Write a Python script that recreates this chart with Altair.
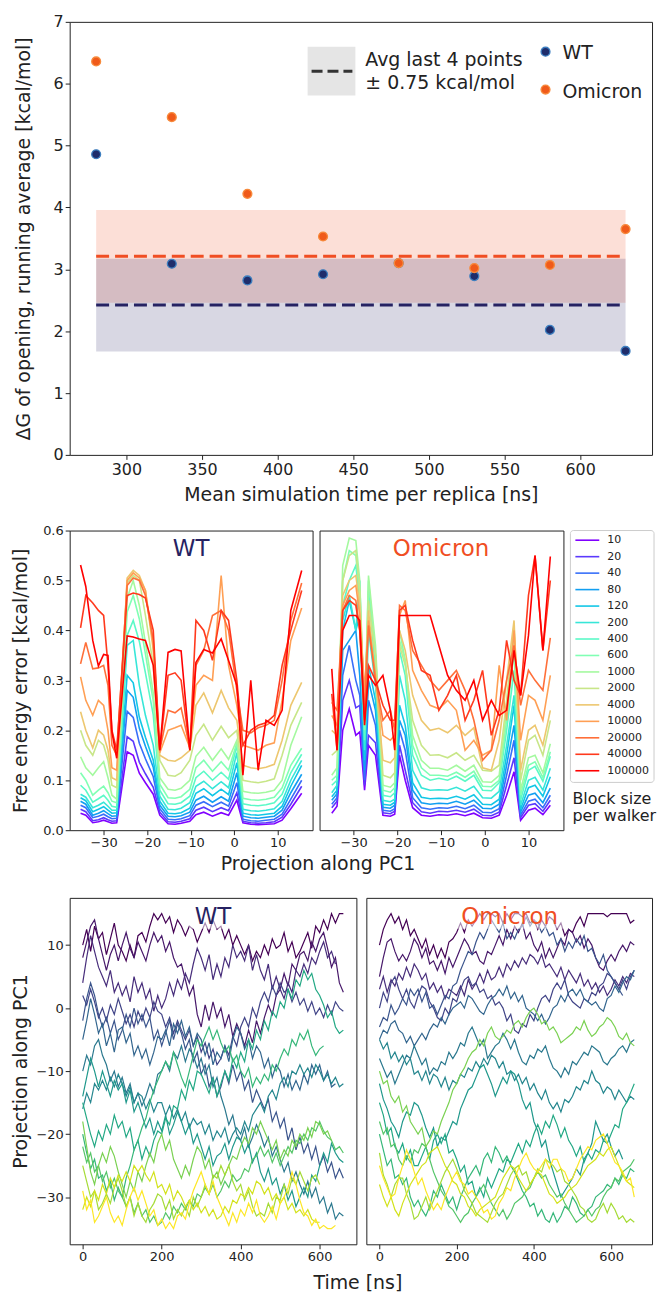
import math
import altair as alt
import pandas as pd

# ------------------------------------------------------------------ top panel
TIME_NS = [280, 330, 380, 430, 480, 530, 580, 630]
DG_WT = [4.86, 3.09, 2.82, 2.92, 3.10, 2.89, 2.02, 1.68]
DG_OMICRON = [6.36, 5.46, 4.22, 3.53, 3.10, 3.02, 3.07, 3.65]
BAND_HALF_WIDTH = 0.75
X_TICKS_TOP = [300, 350, 400, 450, 500, 550, 600]
Y_TICKS_TOP = [0, 1, 2, 3, 4, 5, 6, 7]

# ------------------------------------------------------------------ middle panels
BLOCK_SIZES = [10, 20, 40, 80, 120, 200, 400, 600, 1000, 2000, 4000, 10000, 20000, 40000, 100000]
X_TICKS_MID = [-30, -20, -10, 0, 10]
Y_TICKS_MID = [0.0, 0.1, 0.2, 0.3, 0.4, 0.5, 0.6]

X_WT = [-35.3, -34.1, -32.5, -31.2, -30.0, -29.0, -28.1, -27.0, -24.6, -23.2, -21.8, -20.4, -18.6, -17.1,
        -15.2, -13.6, -12.2, -10.2, -8.8, -7.0, -5.0, -3.0, -1.3, 0.6, 2.0, 3.8, 5.5, 7.3, 9.2, 11.0, 13.0, 15.5]
WT_ERR_10 = [.034, .030, .015, .017, .020, .017, .014, .015, .157, .150, .114, .095, .072, .030, .013, .012, .014, .018, .031, .036, .028, .035, .030, .060, .015, .012, .011, .012, .013, .020, .043, .074]
WT_ERR_20 = [.042, .037, .019, .021, .025, .021, .018, .019, .187, .178, .136, .113, .086, .036, .017, .016, .018, .023, .040, .046, .037, .045, .039, .075, .018, .015, .014, .015, .017, .026, .052, .088]
WT_ERR_40 = [.050, .045, .025, .028, .032, .027, .023, .024, .238, .226, .174, .143, .107, .043, .022, .021, .023, .029, .050, .057, .047, .056, .048, .095, .022, .019, .018, .020, .022, .032, .062, .100]
WT_ERR_80 = [.058, .052, .030, .034, .039, .033, .028, .029, .280, .266, .204, .168, .126, .050, .028, .027, .029, .036, .060, .068, .056, .067, .058, .115, .028, .025, .024, .026, .028, .040, .075, .112]
WT_ERR_120 = [.065, .059, .037, .042, .047, .040, .034, .035, .310, .295, .226, .186, .140, .058, .034, .033, .035, .044, .074, .083, .069, .082, .071, .135, .034, .031, .030, .032, .034, .048, .088, .130]
WT_ERR_200 = [.072, .066, .045, .050, .056, .048, .040, .040, .370, .380, .290, .230, .170, .068, .042, .041, .044, .055, .088, .098, .083, .097, .085, .155, .042, .039, .038, .040, .043, .058, .100, .140]
WT_ERR_400 = [.090, .080, .056, .063, .070, .060, .048, .046, .390, .420, .378, .315, .231, .080, .053, .052, .055, .068, .105, .118, .100, .116, .102, .170, .053, .050, .049, .051, .055, .072, .115, .152]
WT_ERR_600 = [.115, .100, .070, .080, .088, .075, .058, .055, .437, .470, .423, .353, .259, .092, .065, .064, .067, .082, .125, .140, .118, .137, .120, .175, .064, .061, .060, .062, .066, .085, .130, .164]
WT_ERR_1000 = [.147, .125, .110, .125, .137, .105, .070, .062, .465, .500, .450, .375, .275, .105, .082, .080, .084, .100, .148, .166, .140, .163, .142, .180, .078, .075, .074, .076, .080, .100, .170, .227]
WT_ERR_2000 = [.200, .170, .150, .180, .170, .140, .090, .085, .495, .510, .500, .430, .330, .140, .110, .108, .115, .140, .190, .212, .180, .208, .185, .200, .100, .097, .095, .098, .103, .150, .210, .256]
WT_ERR_4000 = [.237, .200, .165, .200, .190, .160, .105, .100, .505, .520, .510, .480, .360, .150, .140, .138, .145, .160, .250, .275, .235, .280, .245, .220, .130, .125, .123, .126, .132, .180, .250, .296]
WT_ERR_10000 = [.307, .260, .230, .260, .250, .200, .125, .120, .500, .515, .505, .480, .370, .155, .200, .205, .210, .165, .290, .310, .300, .510, .330, .250, .170, .165, .160, .170, .175, .260, .380, .445]
WT_ERR_20000 = [.333, .376, .323, .325, .330, .290, .170, .150, .490, .505, .500, .470, .380, .160, .240, .235, .245, .165, .330, .360, .430, .440, .400, .280, .200, .195, .205, .210, .220, .300, .420, .495]
WT_ERR_40000 = [.405, .470, .455, .440, .430, .330, .200, .160, .470, .475, .472, .465, .400, .160, .310, .315, .300, .160, .420, .400, .340, .440, .420, .300, .170, .200, .210, .215, .230, .330, .400, .480]
WT_ERR_100000 = [.531, .488, .380, .329, .352, .350, .197, .144, .389, .387, .383, .380, .330, .160, .356, .362, .359, .160, .336, .362, .355, .383, .340, .290, .110, .300, .120, .220, .210, .240, .440, .520]

X_OM = [-35.0, -33.8, -32.5, -31.0, -29.5, -28.6, -27.5, -26.6, -25.0, -23.3, -21.6, -20.6, -19.5, -18.2,
        -16.5, -14.5, -12.5, -10.5, -8.5, -6.5, -4.5, -2.5, -0.5, 1.5, 3.3, 5.0, 6.7, 8.2, 10.0, 11.5, 13.3, 15.0]
OM_ERR_10 = [.034, .048, .200, .243, .190, .197, .080, .170, .150, .030, .028, .032, .150, .100, .045, .030, .028, .031, .030, .033, .029, .034, .025, .024, .030, .070, .117, .020, .040, .044, .031, .050]
OM_ERR_20 = [.045, .058, .260, .300, .245, .250, .090, .190, .175, .035, .033, .038, .170, .120, .055, .037, .034, .038, .037, .040, .036, .042, .030, .029, .036, .090, .145, .025, .050, .053, .038, .060]
OM_ERR_40 = [.052, .065, .310, .370, .300, .270, .100, .260, .210, .040, .038, .043, .200, .160, .065, .045, .042, .045, .044, .048, .043, .050, .036, .035, .043, .110, .180, .030, .058, .062, .045, .070]
OM_ERR_80 = [.060, .073, .360, .380, .400, .310, .120, .300, .240, .046, .044, .050, .220, .190, .080, .055, .052, .054, .053, .058, .052, .060, .044, .043, .052, .130, .210, .036, .070, .074, .055, .084]
OM_ERR_120 = [.067, .080, .400, .460, .400, .430, .140, .330, .260, .052, .050, .056, .250, .210, .095, .066, .063, .064, .063, .068, .062, .071, .052, .051, .062, .150, .250, .042, .085, .090, .068, .107]
OM_ERR_200 = [.075, .090, .420, .470, .400, .500, .160, .400, .290, .060, .057, .062, .310, .260, .120, .085, .080, .081, .080, .086, .078, .088, .065, .064, .078, .170, .270, .050, .100, .106, .080, .124]
OM_ERR_400 = [.090, .100, .450, .500, .530, .460, .180, .480, .320, .070, .067, .075, .360, .310, .150, .110, .100, .104, .100, .108, .098, .110, .080, .079, .095, .200, .320, .060, .120, .128, .098, .148]
OM_ERR_600 = [.100, .110, .500, .560, .550, .470, .200, .500, .350, .080, .076, .085, .400, .340, .170, .125, .110, .110, .108, .116, .106, .118, .088, .087, .100, .220, .360, .070, .130, .137, .105, .157]
OM_ERR_1000 = [.110, .125, .530, .585, .580, .500, .220, .510, .370, .090, .086, .095, .380, .340, .190, .140, .124, .124, .120, .130, .118, .130, .097, .096, .110, .240, .390, .080, .145, .150, .115, .173]
OM_ERR_2000 = [.150, .160, .500, .550, .560, .480, .240, .460, .350, .110, .105, .115, .370, .330, .220, .170, .150, .151, .145, .155, .140, .150, .120, .118, .130, .260, .410, .100, .180, .190, .150, .220]
OM_ERR_4000 = [.200, .190, .470, .500, .510, .450, .250, .440, .300, .140, .135, .145, .400, .360, .270, .220, .200, .204, .195, .210, .190, .205, .125, .120, .180, .300, .420, .120, .200, .210, .170, .240]
OM_ERR_10000 = [.230, .210, .450, .480, .490, .430, .280, .420, .310, .190, .180, .190, .430, .460, .320, .280, .250, .243, .260, .240, .160, .180, .150, .160, .330, .220, .400, .180, .270, .260, .220, .310]
OM_ERR_20000 = [.256, .240, .440, .470, .460, .400, .240, .410, .300, .220, .240, .200, .450, .440, .360, .330, .300, .280, .300, .320, .280, .220, .140, .160, .220, .300, .370, .250, .320, .300, .280, .385]
OM_ERR_40000 = [.273, .160, .440, .460, .450, .400, .220, .330, .300, .250, .220, .220, .440, .450, .380, .320, .310, .240, .270, .310, .220, .260, .320, .190, .240, .380, .300, .270, .470, .550, .360, .500]
OM_ERR_100000 = [.323, .160, .400, .430, .430, .420, .210, .310, .290, .310, .240, .160, .430, .430, .430, .430, .430, .370, .310, .280, .260, .300, .220, .260, .230, .240, .360, .270, .390, .550, .360, .548]

# ------------------------------------------------------------------ bottom panels (walker trajectories, one value every 10 ns)
TIME_STEP_NS = 10
X_TICKS_BOT = [0, 200, 400, 600]
Y_TICKS_BOT = [-30, -20, -10, 0, 10]

WT_WALK_0 = [10, 12.5, 9, 13, 11, 12, 8.5, 11, 13.5, 10, 9, 7.5, 10, 8, 11.5, 12, 10.5, 13, 15, 14, 15, 13.5, 14.5, 12, 14, 13, 11.5, 13, 12.5, 10.5, 12, 13.5, 12, 14, 12.5, 13, 11, 12.5, 10, 11.5, 10, 8.5, 10, 7.5, 9, 8, 10, 8.5, 11, 9.5, 10, 12, 9, 10.5, 8, 9, 10.5, 12, 9.5, 13, 12, 14, 12.5, 15, 13.5, 15, 15]
WT_WALK_1 = [8, 10.5, 13, 14, 11, 8.5, 6, 8.5, 10, 7.5, 10, 12, 9.5, 8, 10.5, 9, 7.5, 10, 12, 10.5, 11.5, 9, 10.5, 8, 6.5, 7, 4.5, 2, 3.5, -1, -3, 0.5, -2, 1, -1.5, 0, -3, -1, -4.5, -2.5, -4, -6, -3.5, -5.5, -2, -4, -1.5, 0.5, -1, 2, 3, 5.5, 3.5, 7, 6, 8.5, 9, 7.5, 10.5, 9, 11, 12, 9.5, 6.5, 8, 4, 2.5]
WT_WALK_2 = [4, 8, 11.5, 9, 6.5, 5, 3.5, 6, 2.5, 4, 2, 3.5, 1, 5, 2.5, 4, 1.5, 3, -0.5, 2, 0, 1.5, 4, 2, 4.5, 3, 5.5, 4, 7, 9.5, 8, 6, 8.5, 4.5, 7, 5, 8, 6.5, 10, 8, 9, 7.5, 10, 6, 8.5, 6, 4.5, 7, 3, 5, 3, 1.5, 4, 2.5, 6, 5, 7, 5.5, 8, 7, 9, 10.5, 8, 9, 7]
WT_WALK_3 = [-2, 1.5, 4, 2, -1, -3, -1.5, -4, -2, -5, -3.5, -1, -3, 0, -2.5, -1, -3, -1.5, -5, -3.5, -6, -4, -2, -5, -2.5, -4, -6.5, -5, -8.5, -7, -10.5, -9, -12.5, -11, -14, -12.5, -10, -12, -9, -11.5, -10, -13, -11.5, -15, -13, -14.5, -16, -14.5, -18, -16.5, -19, -17.5, -21, -19, -22.5, -20.5, -23, -21.5, -24, -22, -25, -23.5, -26, -24.5, -27, -25.5, -27]
WT_WALK_4 = [-5, -2, 1.5, -1, -4, -2.5, -6, -4, -7, -3.5, -3, -5.5, -4, -7.5, -6, -8, -6.5, -9, -7, -4.5, -5, -3.5, -6, -2.5, -4, -2, -4.5, -3, -6, -4, -5, -7.5, -5.5, -9, -7, -8, -6, -8.5, -5, -3, -4, -6.5, -5, -8, -6, -7, -9.5, -8, -11, -9, -10, -12.5, -10.5, -13, -11.5, -13, -10.5, -12, -9, -10.5, -9, -11.5, -10, -12.5, -12]
WT_WALK_5 = [-10, -7.5, -9, -6, -5, -7.5, -9, -11.5, -10, -12.5, -11, -13.5, -12, -15, -13.5, -15.5, -14, -12, -13.5, -10.5, -10, -8.5, -10, -7, -8, -6, -8.5, -6.5, -7.5, -9.5, -8, -10.5, -9, -12.5, -11, -14, -16, -18.5, -17, -20, -21, -19, -22, -20.5, -18.5, -20, -22, -20.5, -23.5, -22, -24, -26, -24.5, -27.5, -26, -28, -29.5, -27.5, -30, -28.5, -31, -30, -32.5, -31, -33.5, -32.5, -33]
WT_WALK_6 = [-14, -11, -8, -10, -12.5, -10, -12, -14, -11.5, -13, -12, -15, -13, -16.5, -15, -17, -19, -17.5, -20, -18, -19.5, -17, -20, -18.5, -16.5, -18, -20, -18.5, -21.5, -20, -22, -24, -22, -25, -23.5, -23, -21.5, -24, -22, -20.5, -21, -23, -21.5, -24.5, -23, -26, -27.5, -25.5, -28, -27, -29.5, -28, -30.5, -29, -31.5, -30, -28.5, -30, -26.5, -27.5, -25, -23, -24.5, -21.5, -23, -24, -24.5]
WT_WALK_7 = [-15, -17.5, -20, -22, -19.5, -21, -18.5, -20, -17, -19, -18, -20.5, -19, -22.5, -21, -24, -22, -23.5, -21, -19.5, -20, -17.5, -18.5, -15.5, -16, -13, -14.5, -11.5, -13, -10, -10.5, -12, -13.5, -11, -14, -12, -10, -11.5, -8, -9.5, -7, -8.5, -5, -6.5, -3.5, -5, -2, -3.5, -0.5, -1.5, 1, 0, 3, 1.5, 4.5, 3.5, 6, 4.5, 5.5, 3, 2, 0.5, -1.5, -0.5, -3, -4, -3.5]
WT_WALK_8 = [-20, -23, -25.5, -24, -27, -26.5, -29, -27.5, -30.5, -28.5, -30, -27, -25, -22.5, -21, -19, -17.5, -15, -13, -11.5, -10, -8.5, -9.5, -7, -9, -11, -12.5, -10, -7.5, -5, -6, -4.5, -3, -5, -3.5, -5.5, -7, -6, -8.5, -7.5, -10, -11, -9.5, -12.5, -11, -12, -10.5, -11.5, -9, -10, -8, -6.5, -7.5, -5, -6, -4, -5, -3.5, -6, -7.5, -6.5, -6]
WT_WALK_9 = [-18, -22, -26, -28, -25, -23, -24.5, -22, -23.5, -26, -28, -30, -27.5, -29, -26, -27.5, -25, -23, -24.5, -21.5, -20, -22.5, -21, -24, -25.5, -27, -25, -26.5, -24, -22, -23, -25.5, -24, -27, -26, -28, -26.5, -25, -23.5, -24, -22, -20.5, -21.5, -19, -20, -18, -19.5, -21, -22.5, -21, -24, -22.5, -23.5, -21, -22, -20, -21, -19, -20.5, -18, -18.5, -20, -19.5, -21]
WT_WALK_10 = [-25, -27.5, -30, -29, -32, -31, -29.5, -31, -28.5, -27, -29, -31.5, -30, -33, -31, -33, -34, -32, -31, -29.5, -30, -32, -30.5, -33.5, -32, -33, -31.5, -33, -30, -31.5, -30, -28, -29.5, -26.5, -27, -25, -26.5, -25, -27.5, -29, -28, -30.5, -29, -31.5, -33, -32.5, -33, -31, -32.5, -30, -30.5, -28, -29.5, -27, -28, -26, -27.5, -29, -27, -26.5, -28]
WT_WALK_11 = [-29, -32, -30.5, -34, -33, -31.5, -30, -32.5, -34, -33, -34.5, -32, -30, -28.5, -30.5, -29, -31, -33, -32, -34.5, -33.5, -35, -34, -35, -33, -32.5, -33.5, -31, -29, -27.5, -26, -28, -29.5, -27.5, -30, -31.5, -33, -34.5, -32.5, -34, -32, -33, -31, -32.5, -30.5, -33, -34, -33, -31.5, -33.5, -31, -30, -28.5, -26, -28, -30.5, -32.5, -33, -34.5, -33.5, -35, -34.5, -35, -35, -34.5]
WT_WALK_12 = [2, 0.5, 3, 1, -1.5, 0, -2, 0.5, -1, 1.5, -0.5, -2.5, -1, -3, -0.5, -2, 0, -1.5, 1, -0.5, -1, -3, -1.5, -4, -2, -3.5, -5, -3.5, -6, -4.5, -7, -5.5, -8, -6.5, -9, -8, -6, -7.5, -4.5, -6, -3, -1.5, -3, 0, -1.5, 1, 2.5, 1, 3.5, 2, 4, 2.5, 3, 1, 2.5, 0.5, 1.5, -0.5, 1, -1, 0, -1.5, 0.5, -1, 1, 0, -0.5]
WT_WALK_13 = [-16, -13.5, -15, -12, -13, -11.5, -13, -11, -12.5, -10.5, -12, -14, -12.5, -15, -13.5, -14, -16, -14.5, -16.5, -15, -15, -17, -15.5, -17.5, -16, -18, -16.5, -19, -17.5, -18.5, -18, -20, -18.5, -21, -19.5, -20.5, -19, -21.5, -20, -19, -20, -18, -19.5, -17, -16, -15, -16.5, -14, -13, -14.5, -12, -11, -12.5, -10, -10.5, -9, -10.5, -9.5, -11, -9, -10, -11.5, -10.5, -12, -11, -12.5, -12]
WT_WALK_14 = [-22, -24.5, -23, -26, -25, -27.5, -26, -28.5, -27, -29, -30, -31.5, -30, -32.5, -31, -33, -32, -34, -33, -34.5, -34, -32.5, -33.5, -31.5, -32.5, -31, -32, -30.5, -31.5, -29.5, -30, -28.5, -29.5, -28, -30, -29, -27.5, -28.5, -26.5, -27.5, -27, -25.5, -26, -24, -23.5, -22, -23.5, -22.5, -24.5, -23, -25, -23.5, -22, -23, -21, -21.5, -20, -21, -19, -19.5, -18, -19.5, -20.5, -21, -22.5, -22, -23]
WT_WALK_15 = [-32, -30, -31.5, -29, -30.5, -28, -29.5, -27, -28.5, -26.5, -27.5, -26, -27.5, -25, -26, -25, -26.5, -27.5, -26, -28.5, -28, -29.5, -28, -30.5, -29, -30, -31.5, -30.5, -32, -31, -32.5, -31.5, -33, -32, -33.5, -33, -31.5, -32.5, -30.5, -31, -29.5, -30, -28.5, -29.5, -27.5, -28, -29.5, -28.5, -30.5, -29.5, -31, -30, -32, -31, -32.5, -32, -33, -32, -33.5, -34, -34]

OM_WALK_0 = [10, 12.5, 14, 15, 13.5, 14.5, 12.5, 14, 11.5, 12.5, 11, 9.5, 11, 8.5, 10, 8, 9.5, 8, 10.5, 11, 12, 13.5, 12, 14, 13, 14, 15, 14, 15, 15, 14.5, 15, 13.5, 15, 14, 15, 15, 14.5, 15, 13.5, 14, 12.5, 14, 13, 14.5, 14, 12.5, 13.5, 11.5, 12.5, 12, 13.5, 14.5, 13, 15, 15, 15, 15, 15, 14.5, 15, 15, 15, 15, 15, 13.5, 14]
OM_WALK_1 = [5, 8, 10.5, 11, 9, 7.5, 8.5, 7.5, 9, 11, 10, 8, 9.5, 7, 7.5, 6, 7.5, 5.5, 8, 6.5, 8, 9.5, 11, 10, 8.5, 9, 7.5, 7, 9, 8.5, 10, 11.5, 10, 12.5, 11, 13, 12, 13.5, 11, 12, 10, 9, 10.5, 8, 9.5, 8, 9.5, 11, 10, 12.5, 12, 10.5, 11.5, 9.5, 11, 10, 8, 6.5, 6, 7.5, 8.5, 7.5, 9, 10, 9, 10.5, 10]
OM_WALK_2 = [0, 2.5, 1, 4, 5, 3, 1.5, 3, 1, 0, 2, 3.5, 3, 1, 0, -1.5, -2, 0, -1, 1.5, 1, 3, 4.5, 5, 3.5, 4, 2.5, 3, 1.5, 2, 0.5, 1, 0, -2, -1, -3.5, -4, -2.5, -3, -1, -2, 0, 1.5, 2, 1, 3, 4, 3, 4.5, 2, 1, 0.5, 0, 1.5, 1, 2.5, 2, 3.5, 4, 5.5, 5, 4, 3, 4.5, 3, 5, 6]
OM_WALK_3 = [-3, -1.5, -2, 0.5, -1, 0, 1.5, 0.5, 3, 2, 3, 1, 2.5, 0, 0.5, -1, 0.5, 2, 1.5, 3.5, 4, 6, 7.5, 9, 8.5, 10.5, 12, 11, 12.5, 14, 13, 12, 13.5, 11, 12, 11, 12.5, 13, 14.5, 13, 14, 13.5, 12, 13, 11.5, 12, 10, 11, 9, 10.5, 9.5, 11, 10, 11.5, 9, 9.5, 8, 7, 8.5, 6, 5, 4, 3, 2]
OM_WALK_4 = [-5, -3.5, -4, -2.5, -2, -3.5, -4, -5.5, -4.5, -6, -5, -4, -5, -3.5, -2.5, -3, -1.5, -2.5, -1, 0, 0.5, 1, 0, 2, 1.5, 0.5, -0.5, -1, 0.5, 1.5, 2, 3, 2, 3.5, 1.5, 2.5, 1, 2, 0, -0.5, -1, -2, -1, -2.5, -1.5, 0, 0.5, 2, 1, 2.5, 3, 2, 3, 1.5, 1, 0.5, 1, 0, -0.5, 1.5, 2, 3.5, 2.5, 4, 5, 4.5, 6]
OM_WALK_5 = [-8, -9.5, -11, -10, -12, -10.5, -9, -7.5, -8, -6, -7.5, -9, -8, -10.5, -9.5, -10, -8.5, -9, -7, -8, -7, -5.5, -6, -4, -3, -4.5, -6, -5, -8, -7, -6, -5.5, -4, -5, -6.5, -5, -7, -8.5, -9, -7.5, -8, -6.5, -7, -6, -8, -9.5, -10, -11, -9.5, -10.5, -8.5, -9, -8, -7, -7.5, -6, -6.5, -7, -8.5, -9, -8, -7.5, -6.5, -6, -7, -5.5, -5]
OM_WALK_6 = [-12, -14.5, -16, -18, -19, -20.5, -18, -16.5, -17, -15, -15.5, -17, -19, -20.5, -19, -22, -20.5, -21, -19.5, -18, -18.5, -16, -14.5, -13, -12.5, -11, -9.5, -9, -10.5, -12, -14, -12.5, -11, -12, -10, -10.5, -12, -14.5, -16, -15, -18, -19.5, -22, -21, -24, -26, -28, -30, -29, -28, -27, -25.5, -26.5, -24, -23, -21.5, -18, -19.5, -21, -20, -22, -23.5, -22.5, -24]
OM_WALK_7 = [-15, -17, -20, -19, -22, -23, -21.5, -24, -22.5, -25, -25, -23.5, -22, -24, -21, -20, -21.5, -20, -23, -22.5, -24, -26, -25, -28, -27.5, -30, -28.5, -30, -27, -28.5, -27, -25.5, -26, -24, -24.5, -23, -21.5, -23, -21, -22, -20, -18.5, -20, -18, -19, -17, -18.5, -20.5, -19, -21, -22, -23.5, -22, -24.5, -23, -24, -22.5, -23, -21, -21.5, -20, -18.5, -19, -16, -15, -13.5, -12]
OM_WALK_8 = [-20, -22.5, -25, -24, -27, -26.5, -28, -27, -30, -31.5, -30.5, -32, -33, -31.5, -29, -30, -28, -29.5, -31, -30, -32, -30, -28.5, -27, -26, -25, -26.5, -24, -23, -24.5, -22, -23, -24.5, -23.5, -25, -26, -27.5, -29, -30, -31.5, -31, -33, -32, -33.5, -34, -32.5, -34, -33, -31.5, -32, -30, -31, -32.5, -33, -32, -31.5, -30, -29.5, -29, -28, -28.5, -27, -28, -26.5, -27, -25.5, -26]
OM_WALK_9 = [-10, -12, -11.5, -14, -15, -14, -16.5, -15.5, -18, -19, -20, -19, -22, -21, -19.5, -20, -18, -16.5, -15, -13, -12, -10.5, -9.5, -8, -7, -6.5, -5, -6, -4, -3, -4.5, -5, -4.5, -3.5, -4, -2.5, -2, -3, -1.5, -0.5, 0, -1, -2.5, -2, -3.5, -3, -4, -5.5, -5, -4.5, -4, -3, -3.5, -2, -3.5, -4.5, -4, -3, -2.5, -1.5, -2, -3, -4.5, -5, -4, -5.5, -6]
OM_WALK_10 = [-23, -26.5, -28, -30, -28, -27, -27, -29.5, -31, -33.5, -33, -31.5, -30, -32, -30.5, -29, -27.5, -26, -25, -24, -25.5, -27, -29, -30, -31, -32.5, -33, -33.5, -34, -32.5, -31, -30, -29.5, -28, -26.5, -25.5, -25, -26.5, -26, -28, -27, -25.5, -26, -24, -24.5, -25, -26, -25.5, -27.5, -28, -29, -30, -31.5, -32, -33.5, -34, -33.5, -32, -31, -32.5, -31, -32, -33.5, -33, -34, -33.5, -34]
OM_WALK_11 = [-25, -27, -28.5, -30, -29.5, -27, -25, -22.5, -24, -26, -28, -27, -29, -30.5, -32, -31, -32, -30, -28.5, -27, -26, -27.5, -28, -29.5, -29, -30, -31, -32.5, -32, -33.5, -33, -31, -30, -28.5, -29, -27, -25.5, -24, -23, -24.5, -25.5, -26, -25, -24, -25.5, -24, -24, -25.5, -26, -27.5, -27, -25.5, -24, -23, -22, -22.5, -21, -20.5, -20, -21.5, -23, -24.5, -25, -26, -27.5, -27, -30]
OM_WALK_12 = [3, 5, 2.5, 4.5, 3.5, 5.5, 4.5, 6.5, 5, 7, 6, 4.5, 5.5, 3, 4, 2.5, 3.5, 1.5, 3, 2.5, 2, 3.5, 2, 4.5, 3, 4, 5.5, 4, 6, 4.5, 5, 6.5, 5, 7, 6, 7.5, 6.5, 8, 7, 8.5, 8, 7, 8.5, 6.5, 7, 6, 5, 6.5, 4.5, 6, 5, 4, 5.5, 3.5, 4.5, 3, 4, 2.5, 3.5, 2, 3, 4.5, 3.5, 5, 4, 5.5, 5]
OM_WALK_13 = [-5, -6.5, -5.5, -8, -7, -8.5, -7.5, -9, -8, -10.5, -10, -11.5, -10, -12, -10.5, -11, -12.5, -11, -13, -11.5, -12, -10.5, -11, -9.5, -10, -8.5, -9.5, -8, -9, -7.5, -8, -9.5, -8.5, -10.5, -10, -11.5, -10.5, -12, -11, -13, -12, -13.5, -14.5, -13, -15, -16, -15, -16.5, -14.5, -15, -14, -12.5, -13, -11.5, -12, -10, -11.5, -12, -13.5, -12.5, -13, -14.5, -13, -14, -15, -14, -14.5]
OM_WALK_14 = [-18, -20, -19, -22, -21.5, -24, -25, -23.5, -24.5, -22.5, -23, -21.5, -22, -24, -26, -27.5, -29, -30, -31.5, -32, -33, -34, -33, -32.5, -31, -30, -29, -28, -29.5, -31, -32, -33, -32, -33.5, -32.5, -31, -30.5, -30, -29, -28.5, -27, -26, -27, -26.5, -28, -29, -30, -29.5, -31, -32, -33, -34, -33.5, -33, -32, -33, -32, -31.5, -30, -29, -28.5, -27, -27.5, -26, -25.5, -25, -24]
OM_WALK_15 = [-28, -30, -31.5, -30, -32, -33, -31, -29.5, -28, -27, -26, -25, -24.5, -23, -22.5, -22, -23.5, -25, -26, -27.5, -28, -29.5, -30, -31.5, -32, -33, -32, -31.5, -31, -30.5, -30, -28.5, -27, -26, -25, -25.5, -27, -28, -29, -28, -27, -26, -26.5, -28, -29.5, -30, -31, -30.5, -30, -29, -28.5, -28, -27, -26, -25, -24.5, -24, -23, -23.5, -22.5, -22, -23.5, -25, -26.5, -27.5, -28, -28.5]

# walkers listed in colour order (dark = starts high, yellow = starts low)
WT_WALKS = [WT_WALK_0, WT_WALK_1, WT_WALK_2, WT_WALK_12, WT_WALK_3, WT_WALK_4, WT_WALK_5, WT_WALK_13,
            WT_WALK_6, WT_WALK_7, WT_WALK_8, WT_WALK_14, WT_WALK_9, WT_WALK_10, WT_WALK_15, WT_WALK_11]
OM_WALKS = [OM_WALK_0, OM_WALK_1, OM_WALK_12, OM_WALK_2, OM_WALK_3, OM_WALK_4, OM_WALK_5, OM_WALK_13,
            OM_WALK_6, OM_WALK_7, OM_WALK_8, OM_WALK_14, OM_WALK_9, OM_WALK_10, OM_WALK_15, OM_WALK_11]
WT_ERRS = [WT_ERR_10, WT_ERR_20, WT_ERR_40, WT_ERR_80, WT_ERR_120, WT_ERR_200, WT_ERR_400, WT_ERR_600,
           WT_ERR_1000, WT_ERR_2000, WT_ERR_4000, WT_ERR_10000, WT_ERR_20000, WT_ERR_40000, WT_ERR_100000]
OM_ERRS = [OM_ERR_10, OM_ERR_20, OM_ERR_40, OM_ERR_80, OM_ERR_120, OM_ERR_200, OM_ERR_400, OM_ERR_600,
           OM_ERR_1000, OM_ERR_2000, OM_ERR_4000, OM_ERR_10000, OM_ERR_20000, OM_ERR_40000, OM_ERR_100000]

# ------------------------------------------------------------------ styling
FONT = "DejaVu Sans"
INK = "#222222"
WT_COLOR = "#262262"
OM_COLOR = "#f04e23"
VIRIDIS_16 = ["#440154", "#47186a", "#472d7b", "#414487", "#3a548c", "#32658e", "#2a788e", "#24868e",
              "#1f988b", "#22a884", "#35b779", "#54c568", "#7ad151", "#a5db36", "#d2e21b", "#fde725"]


def rainbow(n):
    out = []
    for i in range(n):
        x = i / (n - 1)
        r = min(1.0, abs(2 * x - 0.5))
        g = max(0.0, math.sin(math.pi * x))
        b = max(0.0, math.cos(math.pi * x / 2))
        out.append("#%02x%02x%02x" % (round(r * 255), round(g * 255), round(b * 255)))
    return out


RAINBOW = rainbow(len(BLOCK_SIZES))

AX = dict(grid=False, domain=False, tickColor=INK, tickSize=4.5, tickWidth=1, labelColor=INK,
          titleColor=INK, titleFontWeight="normal", labelFont=FONT, titleFont=FONT, labelOverlap=False)


def axis(**kw):
    d = dict(AX)
    d.update(kw)
    return alt.Axis(**d)


one = pd.DataFrame({"a": [0]})


def extent(y_top, y_bottom):
    # invisible spacer fixing the vertical extent of a row in the stacked layout
    return alt.Chart(one).mark_rect(opacity=0).encode(
        x=alt.value(0), x2=alt.value(1), y=alt.value(y_top), y2=alt.value(y_bottom))


# ------------------------------------------------------------------ top chart
pts = pd.DataFrame({
    "t": TIME_NS + TIME_NS,
    "dg": DG_WT + DG_OMICRON,
    "variant": ["WT"] * len(TIME_NS) + ["Omicron"] * len(TIME_NS),
})
avg_wt = sum(DG_WT[-4:]) / 4
avg_om = sum(DG_OMICRON[-4:]) / 4
band = pd.DataFrame({
    "variant": ["Omicron", "WT"],
    "x0": [TIME_NS[0], TIME_NS[0]],
    "x1": [TIME_NS[-1], TIME_NS[-1]],
    "avg": [avg_om, avg_wt],
})
band["lo"] = band["avg"] - BAND_HALF_WIDTH
band["hi"] = band["avg"] + BAND_HALF_WIDTH

xs_top = alt.Scale(domain=[262.5, 647.5], nice=False, zero=False)
ys_top = alt.Scale(domain=[0, 7], nice=False)
ax_x_top = axis(values=X_TICKS_TOP, format="d", labelFontSize=16, titleFontSize=19, titlePadding=8,
                title="Mean simulation time per replica [ns]")
ax_y_top = axis(values=Y_TICKS_TOP, format="d", labelFontSize=16, titleFontSize=19, titlePadding=20,
                title="ΔG of opening, running average [kcal/mol]")
band_color = alt.Color("variant:N", scale=alt.Scale(domain=["WT", "Omicron"], range=[WT_COLOR, OM_COLOR]), legend=None)

bands = alt.Chart(band).mark_rect(opacity=0.18).encode(
    x=alt.X("x0:Q", scale=xs_top, axis=ax_x_top), x2="x1:Q",
    y=alt.Y("lo:Q", scale=ys_top, axis=ax_y_top), y2="hi:Q",
    color=band_color)
avg_lines = alt.Chart(band).mark_rule(strokeWidth=3, strokeDash=[13, 6]).encode(
    x=alt.X("x0:Q", scale=xs_top), x2="x1:Q", y=alt.Y("avg:Q", scale=ys_top), color=band_color)
dots = alt.Chart(pts).mark_circle(size=80, opacity=1, strokeWidth=1.3).encode(
    x=alt.X("t:Q", scale=xs_top), y=alt.Y("dg:Q", scale=ys_top),
    fill=alt.Fill("variant:N", scale=alt.Scale(domain=["WT", "Omicron"], range=["#1f2d6b", "#f05a1a"]), legend=None),
    stroke=alt.Stroke("variant:N", scale=alt.Scale(domain=["WT", "Omicron"], range=["#3d7fc0", "#f78a3c"]), legend=None))

leg_box = alt.Chart(one).mark_rect(color="#e5e5e5").encode(
    x=alt.value(239), x2=alt.value(287), y=alt.value(25), y2=alt.value(74))
leg_dash = alt.Chart(one).mark_rule(color="#333333", strokeWidth=3, strokeDash=[11, 5]).encode(
    x=alt.value(243), x2=alt.value(284), y=alt.value(49.5))
leg_t1 = alt.Chart(one).mark_text(text="Avg last 4 points", align="left", baseline="middle", fontSize=19,
                                  color=INK).encode(x=alt.value(297), y=alt.value(38))
leg_t2 = alt.Chart(one).mark_text(text="± %.2f kcal/mol" % BAND_HALF_WIDTH, align="left", baseline="middle",
                                  fontSize=19, color=INK).encode(x=alt.value(297), y=alt.value(61))
leg_d1 = alt.Chart(one).mark_circle(size=80, opacity=1, fill="#1f2d6b", stroke="#3d7fc0", strokeWidth=1.3).encode(
    x=alt.value(478), y=alt.value(30))
leg_d2 = alt.Chart(one).mark_circle(size=80, opacity=1, fill="#f05a1a", stroke="#f78a3c", strokeWidth=1.3).encode(
    x=alt.value(478), y=alt.value(68))
leg_wt = alt.Chart(one).mark_text(text="WT", align="left", baseline="middle", fontSize=19, color=INK).encode(
    x=alt.value(495), y=alt.value(31))
leg_om = alt.Chart(one).mark_text(text="Omicron", align="left", baseline="middle", fontSize=19, color=INK).encode(
    x=alt.value(495), y=alt.value(70))

top = alt.layer(bands, avg_lines, dots, leg_box, leg_dash, leg_t1, leg_t2, leg_d1, leg_d2, leg_wt, leg_om,
                extent(-10, 496)).properties(width=585, height=435)

# ------------------------------------------------------------------ middle charts
xs_mid = alt.Scale(domain=[-37.8, 18.0], nice=False, zero=False)
ys_mid = alt.Scale(domain=[0, 0.6], nice=False)
rb_color = alt.Color("k:O", scale=alt.Scale(domain=list(range(len(BLOCK_SIZES))), range=RAINBOW), legend=None)


def mid_panel(xv, errs, title, tcolor, first):
    rows = []
    for k, vals in enumerate(errs):
        for x, v in zip(xv, vals):
            rows.append({"x": x, "err": v, "k": k})
    df = pd.DataFrame(rows)
    if first:
        ax_x = axis(values=X_TICKS_MID, format="d", labelFontSize=13, titleFontSize=19, titlePadding=5,
                    title="Projection along PC1", titleX=249)
        y_enc = alt.Y("err:Q", scale=ys_mid,
                      axis=axis(values=Y_TICKS_MID, format=".1f", labelFontSize=13, titleFontSize=19,
                                titlePadding=12, title="Free energy error [kcal/mol]"))
    else:
        ax_x = axis(values=X_TICKS_MID, format="d", labelFontSize=13, title="")
        y_enc = alt.Y("err:Q", scale=ys_mid, axis=None)
    lines = alt.Chart(df).mark_line(strokeWidth=1.6).encode(
        x=alt.X("x:Q", scale=xs_mid, axis=ax_x), y=y_enc, color=rb_color, detail="k:O")
    lab = alt.Chart(one).mark_text(text=title, fontSize=23, color=tcolor, baseline="middle").encode(
        x=alt.value(122), y=alt.value(19))
    layers = [lines, lab]
    if first:
        layers.append(extent(-13, 355))
    return alt.layer(*layers)


mid_wt = mid_panel(X_WT, WT_ERRS, "WT", WT_COLOR, True).properties(width=244, height=301)
mid_om = mid_panel(X_OM, OM_ERRS, "Omicron", OM_COLOR, False).properties(width=245, height=301)

leg_df = pd.DataFrame({"k": list(range(len(BLOCK_SIZES))), "label": [str(b) for b in BLOCK_SIZES]})
ys_leg = alt.Scale(domain=[0, len(BLOCK_SIZES) - 1], range=[9.7, 241.3])
lg_frame = alt.Chart(one).mark_rect(fill="white", stroke="#cccccc", strokeWidth=1, cornerRadius=3).encode(
    x=alt.value(0), x2=alt.value(84), y=alt.value(0), y2=alt.value(253))
lg_rule = alt.Chart(leg_df).mark_rule(strokeWidth=1.6).encode(
    x=alt.value(5), x2=alt.value(29), y=alt.Y("k:Q", scale=ys_leg, axis=None), color=rb_color)
lg_text = alt.Chart(leg_df).mark_text(align="left", baseline="middle", fontSize=11, color=INK).encode(
    x=alt.value(37), y=alt.Y("k:Q", scale=ys_leg, axis=None), text="label:N")
lg_t1 = alt.Chart(one).mark_text(text="Block size", align="left", baseline="middle", fontSize=16, color=INK).encode(
    x=alt.value(2), y=alt.value(270))
lg_t2 = alt.Chart(one).mark_text(text="per walker", align="left", baseline="middle", fontSize=16, color=INK).encode(
    x=alt.value(2), y=alt.value(287))
mid_leg = alt.layer(lg_frame, lg_rule, lg_text, lg_t1, lg_t2).properties(
    width=85, height=301, view=alt.ViewBackground(stroke="transparent"))

mid_row = alt.hconcat(mid_wt, mid_om, mid_leg, spacing=7, bounds="flush")

# ------------------------------------------------------------------ bottom charts
ys_bot = alt.Scale(domain=[-37.5, 17.5], nice=False)
vir = alt.Color("w:O", scale=alt.Scale(domain=list(range(len(WT_WALKS))), range=VIRIDIS_16), legend=None)


def bot_panel(walks, xdom, title, tcolor, first, box):
    rows = []
    for w, vals in enumerate(walks):
        for i, v in enumerate(vals):
            rows.append({"t": i * TIME_STEP_NS, "pc1": v, "w": w})
    df = pd.DataFrame(rows)
    xs = alt.Scale(domain=xdom, nice=False, zero=False)
    if first:
        ax_x = axis(values=X_TICKS_BOT, format="d", labelFontSize=13, titleFontSize=19, titlePadding=10,
                    title="Time [ns]", titleX=289)
        y_enc = alt.Y("pc1:Q", scale=ys_bot,
                      axis=axis(values=Y_TICKS_BOT, format="d", labelFontSize=13, titleFontSize=19,
                                titlePadding=5, title="Projection along PC1"))
    else:
        ax_x = axis(values=X_TICKS_BOT, format="d", labelFontSize=13, title="")
        y_enc = alt.Y("pc1:Q", scale=ys_bot, axis=None)
    lines = alt.Chart(df).mark_line(strokeWidth=1.2).encode(
        x=alt.X("t:Q", scale=xs, axis=ax_x), y=y_enc, color=vir, detail="w:O")
    shade = alt.Chart(one).mark_rect(color="white", opacity=0.55).encode(
        x=alt.value(box[0]), x2=alt.value(box[1]), y=alt.value(7), y2=alt.value(31))
    lab = alt.Chart(one).mark_text(text=title, fontSize=23, color=tcolor, baseline="middle").encode(
        x=alt.value(144), y=alt.value(19))
    layers = [lines, shade, lab]
    if first:
        layers.append(extent(-12, 349))
    return alt.layer(*layers)


bot_wt = bot_panel(WT_WALKS, [-33, 693], "WT", WT_COLOR, True, (120, 168)).properties(width=288, height=348)
bot_om = bot_panel(OM_WALKS, [-34, 706], "Omicron", OM_COLOR, False, (86, 200)).properties(width=287, height=348)
bot_row = alt.hconcat(bot_wt, bot_om, spacing=10, bounds="flush")

chart = alt.vconcat(top, mid_row, bot_row, spacing=0).resolve_scale(
    color="independent", fill="independent", stroke="independent"
).properties(
    padding={"left": 11, "top": 8, "right": 2, "bottom": 4}
).configure(font=FONT).configure_view(stroke=INK, strokeWidth=1)

chart.save("out.html", embed_options={"renderer": "svg", "actions": False})
